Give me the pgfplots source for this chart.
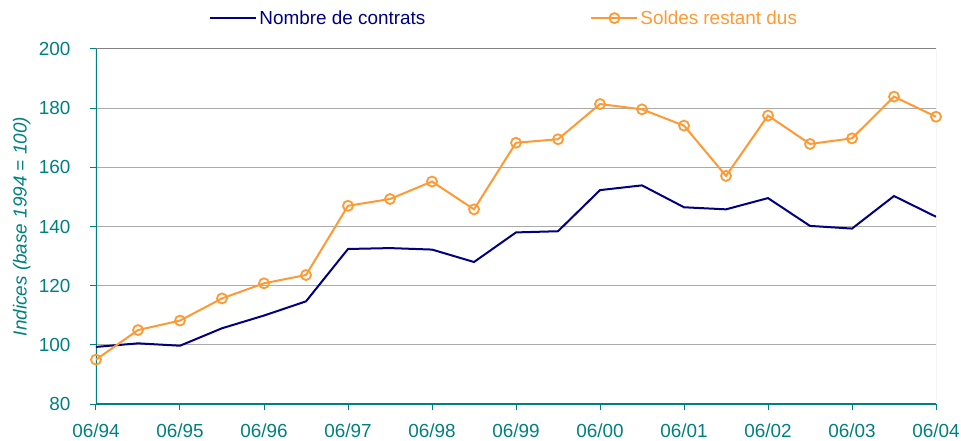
\documentclass[border=0pt]{standalone}
\usepackage{pgfplots}
\pgfplotsset{compat=1.18}
\usepackage{fontspec}
\setmainfont{Liberation Sans}
\usetikzlibrary{calc}
\definecolor{navyc}{RGB}{0,0,128}
\definecolor{orangec}{RGB}{255,153,51}
\definecolor{tealc}{RGB}{0,128,128}
\definecolor{gridc}{RGB}{170,170,170}
\definecolor{topc}{RGB}{130,130,130}
\newcommand\cf{\fontsize{18.9bp}{22bp}\selectfont}
\begin{document}
\begin{tikzpicture}
\begin{axis}[
  name=ax,
  scale only axis, width=840bp, height=355bp,
  xmin=0, xmax=20, ymin=80, ymax=200,
  xtick={0,2,...,20},
  xticklabels={06/94,06/95,06/96,06/97,06/98,06/99,06/00,06/01,06/02,06/03,06/04},
  ytick={80,100,...,200},
  /pgf/number format/assume math mode=true,
  tick label style={font=\cf, text=tealc},
  yticklabel style={xshift=-16bp},
  xticklabel style={yshift=-10bp},
  tick align=outside, tick pos=left,
  major tick length=6bp,
  tick style={tealc, line width=1bp},
  axis line style={draw=none},
  ymajorgrids, major grid style={gridc, line width=1bp},
  ylabel={Indices (base 1994 = 100)},
  ylabel style={at={(rel axis cs:-0.0885,0.5)}, anchor=center, font=\cf\itshape, text=tealc},
  legend columns=2,
  legend style={at={(0.486,1.087)}, anchor=center, draw=none, fill=none, font=\cf,
    /tikz/every even column/.append style={column sep=163bp}},
  legend image code/.code={\draw[mark repeat=2,mark phase=2,#1] plot coordinates {(0bp,0bp) (23bp,0bp) (46bp,0bp)};},
]
\draw[topc, line width=1bp] (rel axis cs:0,1) -- (rel axis cs:1,1);
\draw[gridc, line width=1bp] (rel axis cs:1,0) -- (rel axis cs:1,1);
\draw[tealc, line width=1.2bp] (rel axis cs:0,0) -- (rel axis cs:0,1);
\draw[tealc, line width=1.2bp] (rel axis cs:0,0) -- (rel axis cs:1,0);
\addplot[navyc, line width=2bp, no marks] coordinates {
(0,99.3) (1,100.5) (2,99.7) (3,105.6) (4,109.9) (5,114.7) (6,132.4) (7,132.7)
(8,132.2) (9,128.0) (10,138.0) (11,138.4) (12,152.3) (13,153.9) (14,146.5)
(15,145.8) (16,149.6) (17,140.2) (18,139.3) (19,150.3) (20,143.3)};
\addlegendentry{\textcolor{navyc}{Nombre de contrats}}
\addplot[orangec, line width=2bp, mark=o, mark size=5bp, mark options={line width=1.8bp}] coordinates {
(0,95.0) (1,105.0) (2,108.2) (3,115.7) (4,120.8) (5,123.6) (6,147.0) (7,149.3)
(8,155.2) (9,145.8) (10,168.3) (11,169.5) (12,181.4) (13,179.6) (14,174.1)
(15,157.1) (16,177.5) (17,167.9) (18,169.8) (19,183.9) (20,177.1)};
\addlegendentry{\textcolor{orangec}{Soldes restant dus}}
\end{axis}
\pgfresetboundingbox
\path ($(ax.south west)+(-96bp,-37bp)$) rectangle ($(ax.north east)+(25bp,49bp)$);
\end{tikzpicture}
\end{document}
